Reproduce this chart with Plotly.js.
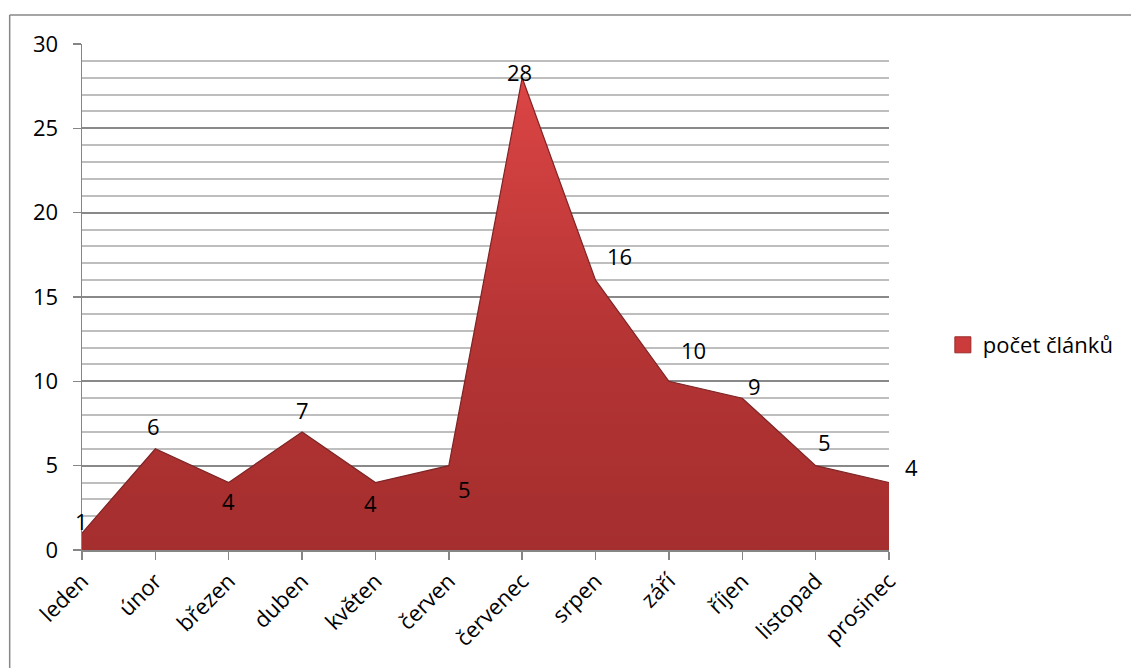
<!DOCTYPE html>
<html>
<head>
<meta charset="utf-8">
<script src="https://cdn.plot.ly/plotly-3.0.1.min.js"></script>
<style>
html,body{margin:0;padding:0;background:#fff;}
#chart{width:1131px;height:668px;}
</style>
</head>
<body>
<div id="chart"></div>
<script>
// Data
const months = ["leden","únor","březen","duben","květen","červen","červenec","srpen","září","říjen","listopad","prosinec"];
const counts = [1, 6, 4, 7, 4, 5, 28, 16, 10, 9, 5, 4];
const seriesName = "počet článků";
const yTicks = [0, 5, 10, 15, 20, 25, 30];

// label offsets (pixels), style only
const labelDX = [-1, -2, 0, 0, -5, 16, -3, 24, 25, 12, 9, 22];
const labelDY = [12, 23, -18, 22, -20, -23, 6, 24, 31, 12, 24, 16];

const xIdx = months.map((m, i) => i);

const font = "Open Sans, Lato, sans-serif";
const FS = 22;

const areaTrace = {
  x: xIdx,
  y: counts,
  type: "scatter",
  mode: "lines",
  name: seriesName,
  showlegend: false,
  fill: "tozeroy",
  line: {color: "#7e2424", width: 1.2},
  fillgradient: {
    type: "vertical",
    start: 0,
    stop: 28,
    colorscale: [[0, "#a52e2e"], [0.45, "#b53434"], [1, "#dc4545"]]
  },
  fillcolor: "#b53535",
  xaxis: "x", yaxis: "y",
  hoverinfo: "x+y"
};

// legend entry (square marker), no data points; also carries the major-grid axis
const legendTrace = {
  x: [null], y: [null],
  type: "scatter", mode: "markers",
  name: seriesName,
  marker: {symbol: "square", size: 17, color: "#cc3b3b", line: {color: "#9a2a2a", width: 1}},
  xaxis: "x", yaxis: "y2",
  showlegend: true
};

const annotations = counts.map((v, i) => ({
  x: i, y: v, xref: "x", yref: "y",
  text: String(v), showarrow: false,
  xshift: labelDX[i], yshift: labelDY[i],
  font: {family: font, size: FS, color: "#000"}
}));

// outer border (left and top edges visible)
const L = 82, R = 891, T = 44, B = 550;
const px = p => (p - L) / (R - L);
const py = p => (B - p) / (B - T);
const shapes = [
  {type: "line", xref: "paper", yref: "paper", x0: px(9.5), x1: px(9.5), y0: py(15), y1: py(680), line: {color: "#878787", width: 1.5}},
  {type: "line", xref: "paper", yref: "paper", x0: px(9.5), x1: px(1140), y0: py(15), y1: py(15), line: {color: "#878787", width: 1.5}}
];

const layout = {
  width: 1131, height: 668,
  margin: {l: L, r: 1131 - R, t: T, b: 668 - B, pad: 0},
  paper_bgcolor: "#fff",
  plot_bgcolor: "rgba(0,0,0,0)",
  font: {family: font, size: FS, color: "#000"},
  showlegend: true,
  legend: {
    x: px(945), y: py(345), xanchor: "left", yanchor: "middle",
    font: {family: font, size: FS, color: "#000"},
    bgcolor: "rgba(0,0,0,0)", itemwidth: 30
  },
  xaxis: {
    range: [0, months.length - 1],
    tickvals: xIdx,
    ticktext: months,
    tickangle: -45,
    showgrid: false,
    zeroline: false,
    showline: true, linecolor: "#868686", linewidth: 1.5,
    ticks: "outside", ticklen: 8, tickcolor: "#868686", tickwidth: 1.5,
    tickfont: {family: font, size: FS, color: "#000"},
    fixedrange: true
  },
  // minor grid (every unit)
  yaxis: {
    range: [0, 30],
    dtick: 1,
    showgrid: true, gridcolor: "#bebebe", gridwidth: 2,
    showticklabels: false,
    ticks: "",
    zeroline: false,
    showline: false,
    fixedrange: true
  },
  // major grid with labels
  yaxis2: {
    overlaying: "y",
    side: "left",
    range: [0, 30],
    tickvals: yTicks,
    showgrid: true, gridcolor: "#898989", gridwidth: 2,
    zeroline: false,
    showline: true, linecolor: "#868686", linewidth: 1.5,
    ticks: "outside", ticklen: 8, tickcolor: "#868686", tickwidth: 1.5,
    ticklabelstandoff: 10,
    tickfont: {family: font, size: FS, color: "#000"},
    fixedrange: true
  },
  annotations: annotations,
  shapes: shapes
};

Plotly.newPlot("chart", [areaTrace, legendTrace], layout, {displayModeBar: false, staticPlot: true});
</script>
</body>
</html>
